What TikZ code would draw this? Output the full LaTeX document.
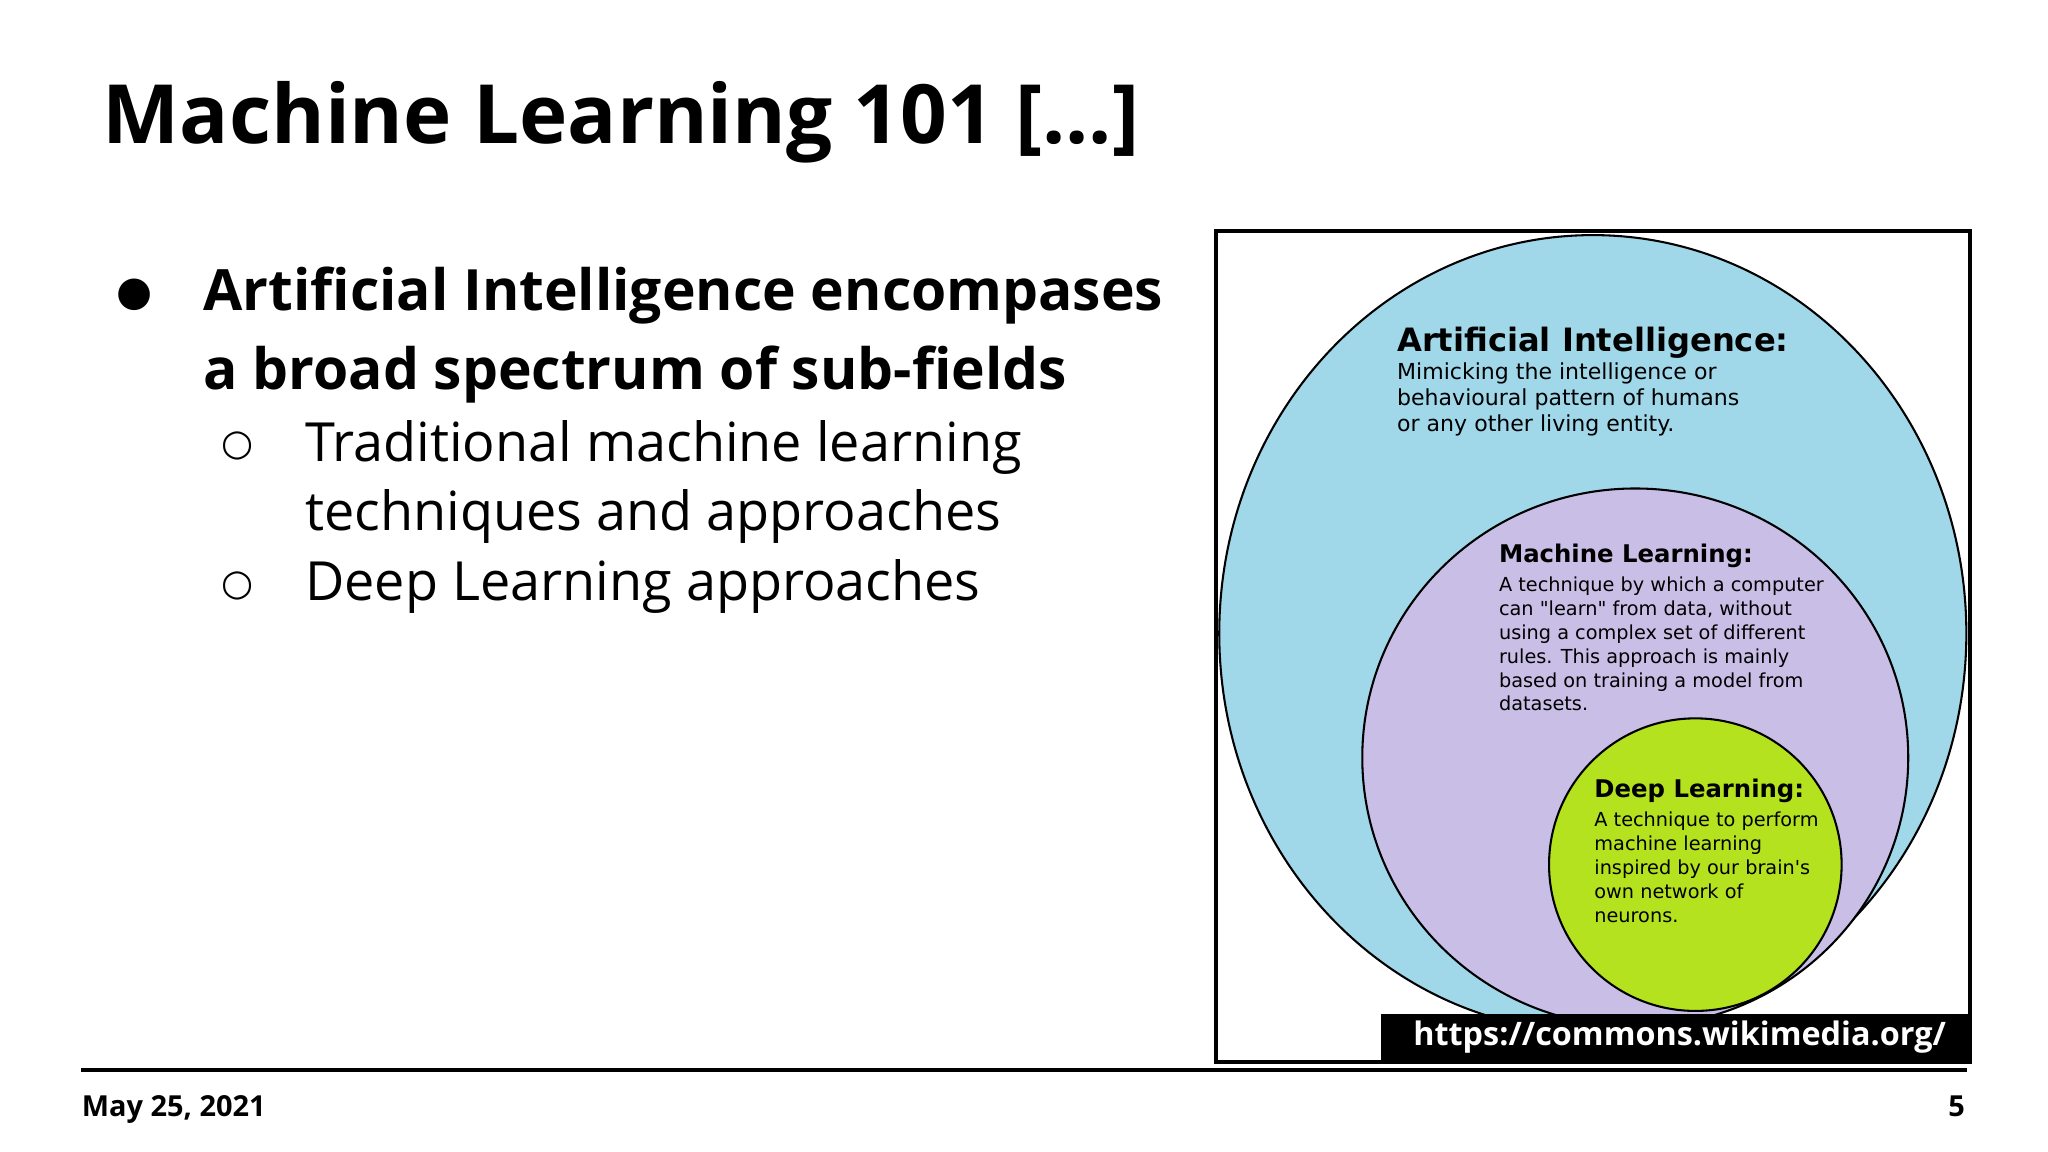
\documentclass[tikz,border=0pt]{standalone}
\usepackage{fontspec}
\setmainfont{Open Sans}
\newfontfamily\dv{DejaVu Sans}
\begin{document}
\begin{tikzpicture}[x=0.01cm,y=-0.01cm,
  ttl/.style={anchor=base west,inner sep=0,font=\fontsize{17.8}{20}\selectfont\bfseries},
  lvl/.style={anchor=base west,inner sep=0,font=\fontsize{12.4}{15}\selectfont\bfseries},
  sub/.style={anchor=base west,inner sep=0,font=\fontsize{11.75}{15}\selectfont},
  hd/.style={anchor=north west,inner sep=0,align=left,font=\dv\bfseries},
  bd/.style={anchor=north west,inner sep=0,align=left,font=\dv\fontsize{4.2}{5.2}\selectfont}]
\useasboundingbox (0,0) rectangle (1568,882);
\node[ttl] (t) at (78,110) {Machine Learning 101 [...]};
\node[lvl] (b1) at (155,238) {Artificial Intelligence encompases};
\node[lvl] (b2) at (155,298) {a broad spectrum of sub-fields};
\node[anchor=base,inner sep=0,font=\dv\fontsize{9}{10}\selectfont] (d1) at (103,234) {●};
\node[sub] (s1) at (233,353) {Traditional machine learning};
\node[sub] (s2) at (233,406) {techniques and approaches};
\node[sub] (s3) at (233,460) {Deep Learning approaches};
\node[anchor=base,inner sep=0,font=\dv\fontsize{8}{10}\selectfont] (c1) at (182,349) {○};
\node[anchor=base,inner sep=0,font=\dv\fontsize{8}{10}\selectfont] (c2) at (182,456) {○};
% diagram
\begin{scope}
\clip (931,177) rectangle (1508,813);
\draw[fill={rgb,255:red,160;green,216;blue,234},line width=0.45pt] (1219.5,485) ellipse (286 and 305);
\draw[fill={rgb,255:red,200;green,190;blue,230},line width=0.45pt] (1252,580) ellipse (209 and 206);
\draw[fill={rgb,255:red,181;green,226;blue,30},line width=0.45pt] (1298,662) circle (112);
\end{scope}
\draw[line width=0.85pt] (931,177) rectangle (1508,813);
\node[hd,font=\dv\bfseries\fontsize{7}{8}\selectfont] (ai) at (1069,250) {Artificial Intelligence:};
\node[bd,font=\dv\fontsize{4.8}{5.7}\selectfont] (aib) at (1069,277) {Mimicking the intelligence or\\behavioural pattern of humans\\or any other living entity.};
\node[hd,font=\dv\bfseries\fontsize{5.3}{6}\selectfont] (ml) at (1147,416) {Machine Learning:};
\node[bd] (mlb) at (1147,441) {A technique by which a computer\\can "learn" from data, without\\using a complex set of different\\rules. This approach is mainly\\based on training a model from\\datasets.};
\node[hd,font=\dv\bfseries\fontsize{5.3}{6}\selectfont] (dl) at (1220,596) {Deep Learning:};
\node[bd] (dlb) at (1220,621) {A technique to perform\\machine learning\\inspired by our brain's\\own network of\\neurons.};
\fill (1057,776) rectangle (1508,813);
\node[inner sep=0,text=white,font=\fontsize{7.05}{9}\selectfont\bfseries] (url) at (1286,794) {https://commons.wikimedia.org/};
% footer
\draw[line width=0.9pt] (62,819) coordinate (l1) -- (1506,819) coordinate (l2);
\node[anchor=base west,inner sep=0,font=\fontsize{6.3}{7}\selectfont\bfseries] (date) at (62,855) {May 25, 2021};
\node[anchor=base east,inner sep=0,font=\fontsize{6.3}{7}\selectfont\bfseries] (pg) at (1505,855) {5};
\end{tikzpicture}
\end{document}
